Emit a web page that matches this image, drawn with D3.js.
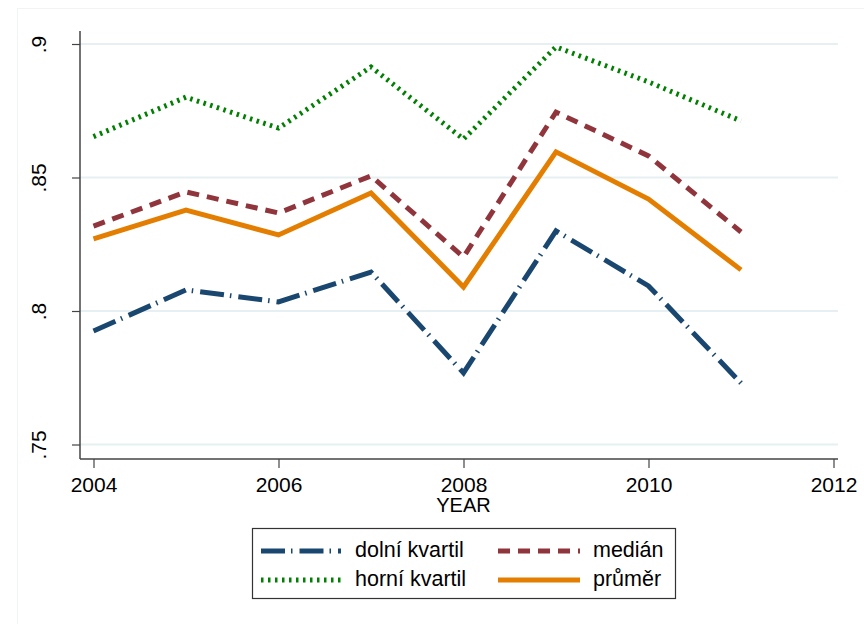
<!DOCTYPE html>
<html>
<head>
<meta charset="utf-8">
<script src="https://cdn.jsdelivr.net/npm/d3@7"></script>
<style>
  html, body { margin: 0; padding: 0; background: #fff; }
  svg { display: block; font-family: "Liberation Sans", Arial, sans-serif; }
</style>
</head>
<body>
<svg id="chart" width="864" height="624"></svg>
<script>
const years = [2004, 2005, 2006, 2007, 2008, 2009, 2010, 2011];
const dolniKvartil = [0.7925, 0.8079, 0.8034, 0.8146, 0.7768, 0.8300, 0.8094, 0.7730];
const median = [0.8318, 0.8446, 0.8367, 0.8506, 0.8202, 0.8745, 0.8581, 0.8296];
const horniKvartil = [0.8653, 0.8801, 0.8685, 0.8914, 0.8644, 0.8989, 0.8858, 0.8712];
const prumer = [0.8270, 0.8378, 0.8285, 0.8442, 0.8090, 0.8596, 0.8419, 0.8154];
const xTicks = [2004, 2006, 2008, 2010, 2012];
const yTicks = [0.75, 0.8, 0.85, 0.9];
const yTickLabels = [".75", ".8", ".85", ".9"];
const xTitle = "YEAR";

const seriesList = [
  { name: "dolní kvartil", values: dolniKvartil, color: "#1a476f", width: 5, dash: "24,6,1.5,7" },
  { name: "medián", values: median, color: "#90353b", width: 5, dash: "12,8" },
  { name: "horní kvartil", values: horniKvartil, color: "#008000", width: 5, dash: "2.5,4.5" },
  { name: "průměr", values: prumer, color: "#e37e00", width: 5, dash: null }
];

const svg = d3.select("#chart");

// faint outer graph region border
svg.append("rect")
  .attr("x", 17.5).attr("y", 8.5).attr("width", 860).attr("height", 630)
  .attr("fill", "none").attr("stroke", "#f1f4f6").attr("stroke-width", 1);

const x = d3.scaleLinear().domain([2004, 2012]).range([93.5, 833.5]);
const y = d3.scaleLinear().domain([0.75, 0.9]).range([444.5, 44]);

const plotLeft = 80, plotRight = 838, plotTop = 31, plotBottom = 459;

// gridlines
svg.append("g")
  .selectAll("line")
  .data(yTicks)
  .join("line")
  .attr("x1", plotLeft).attr("x2", plotRight)
  .attr("y1", d => y(d)).attr("y2", d => y(d))
  .attr("stroke", "#e6eff2").attr("stroke-width", 2);

// y axis
const yAxis = d3.axisLeft(y).tickValues(yTicks).tickSize(8)
  .tickFormat((d, i) => yTickLabels[i]);
const gy = svg.append("g").attr("transform", `translate(${plotLeft},0)`).call(yAxis);
gy.select(".domain").attr("d", `M0,${plotTop}V${plotBottom}`).attr("stroke", "#444").attr("stroke-width", 1.5);
gy.selectAll(".tick line").attr("stroke", "#444").attr("stroke-width", 1.2);
gy.selectAll(".tick text")
  .attr("font-size", 21).attr("fill", "#000")
  .attr("font-family", "'Liberation Sans', Arial, sans-serif")
  .attr("text-anchor", "middle")
  .attr("transform", "rotate(-90)")
  .attr("x", 0).attr("y", -34).attr("dy", 0);

// x axis
const xAxis = d3.axisBottom(x).tickValues(xTicks).tickSize(9).tickFormat(d3.format("d"));
const gx = svg.append("g").attr("transform", `translate(0,${plotBottom})`).call(xAxis);
gx.select(".domain").attr("d", `M${plotLeft},0H${plotRight}`).attr("stroke", "#444").attr("stroke-width", 1.5);
gx.selectAll(".tick line").attr("stroke", "#444").attr("stroke-width", 1.2);
gx.selectAll(".tick text")
  .attr("font-size", 21).attr("fill", "#000")
  .attr("font-family", "'Liberation Sans', Arial, sans-serif")
  .attr("y", 33).attr("dy", 0);

svg.append("text")
  .attr("x", x(2008)).attr("y", 512)
  .attr("text-anchor", "middle")
  .attr("font-size", 20).attr("fill", "#000")
  .text(xTitle);

// lines
const line = d3.line().x((d, i) => x(years[i])).y(d => y(d));
svg.append("g")
  .selectAll("path")
  .data(seriesList)
  .join("path")
  .attr("d", s => line(s.values))
  .attr("fill", "none")
  .attr("stroke", s => s.color)
  .attr("stroke-width", s => s.width)
  .attr("stroke-dasharray", s => s.dash)
  .attr("stroke-linejoin", "miter");

// legend
const legend = svg.append("g");
legend.append("rect")
  .attr("x", 252.5).attr("y", 528.5).attr("width", 423).attr("height", 70)
  .attr("fill", "#fff").attr("stroke", "#333").attr("stroke-width", 1.2);

const legendPos = [
  { lx: 261, tx: 355, ly: 551 },
  { lx: 498, tx: 593, ly: 551 },
  { lx: 261, tx: 355, ly: 580 },
  { lx: 498, tx: 593, ly: 580 }
];
const items = legend.selectAll("g.item").data(seriesList).join("g").attr("class", "item");
items.append("line")
  .attr("x1", (s, i) => legendPos[i].lx)
  .attr("x2", (s, i) => legendPos[i].lx + (i % 2 === 0 ? 80 : 82))
  .attr("y1", (s, i) => legendPos[i].ly)
  .attr("y2", (s, i) => legendPos[i].ly)
  .attr("stroke", s => s.color)
  .attr("stroke-width", s => s.width)
  .attr("stroke-dasharray", s => s.dash);
items.append("text")
  .attr("x", (s, i) => legendPos[i].tx)
  .attr("y", (s, i) => legendPos[i].ly + 6)
  .attr("font-size", 21.5).attr("fill", "#000")
  .text(s => s.name);
</script>
</body>
</html>
